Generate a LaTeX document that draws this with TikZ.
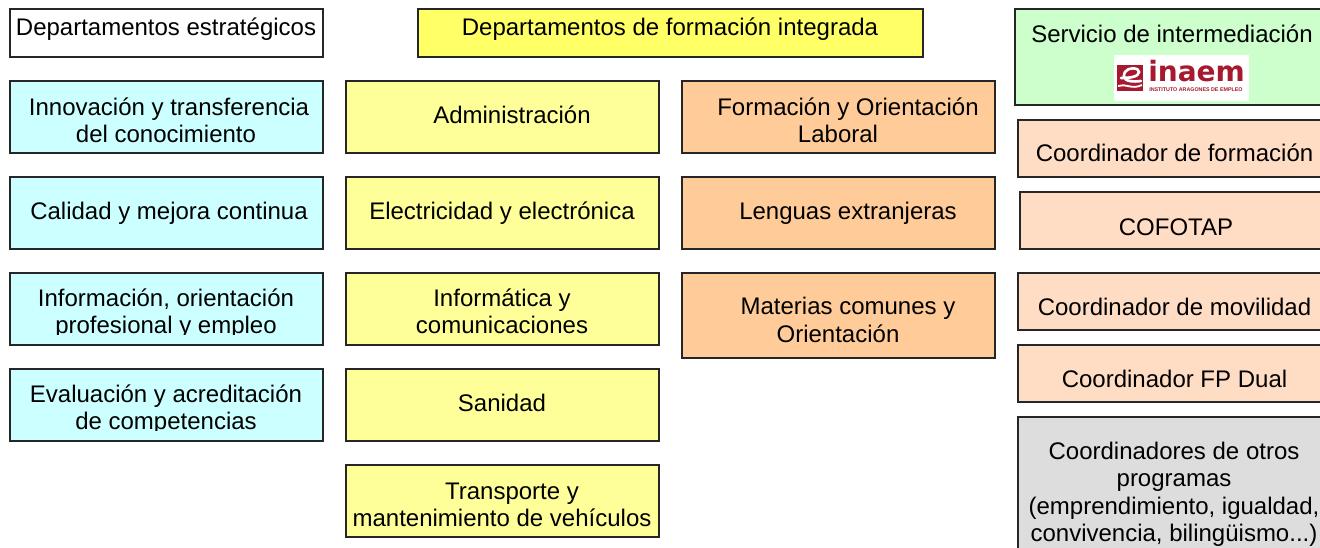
\documentclass[tikz,border=0pt]{standalone}
\usepackage{fontspec}
\setmainfont{Liberation Sans}
\newfontfamily\logofont{DejaVu Sans}
\definecolor{cwhite}{HTML}{FFFFFF}
\definecolor{cblue}{HTML}{CCFFFF}
\definecolor{cyel}{HTML}{FFFF99}
\definecolor{cyel2}{HTML}{FFFF66}
\definecolor{corg}{HTML}{FFCC99}
\definecolor{cgreen}{HTML}{CCFFCC}
\definecolor{cpeach}{HTML}{FFDDC4}
\definecolor{cgray}{HTML}{DDDDDD}
\definecolor{inaemred}{HTML}{A6192E}
\newcommand{\bx}[6]{% name, fill, x0, y0, x1, y1
  \node[boxs, fill=#2, minimum width=#5*0.75pt-#3*0.75pt, minimum height=#6*0.75pt-#4*0.75pt, anchor=north west] (#1) at (#3,#4) {};
}
\newcommand{\tx}[4]{% name, x, y, text
  \node[txt] (#1) at (#2,#3) {\rule{0pt}{14pt}#4\rule[-4pt]{0pt}{4pt}};
}
\tikzset{
  x=0.75pt, y=-0.75pt,
  boxs/.style={draw=black!85, line width=1pt, inner sep=0pt, outer sep=0pt},
  txt/.style={align=center, inner sep=0pt, font=\fontsize{18}{20.6}\selectfont, text=black},
}
\begin{document}
\begin{tikzpicture}
\useasboundingbox (0,0) rectangle (1320,548);
\bx{a0}{cwhite}{10}{9}{323}{57}
\bx{b0}{cyel2}{418}{9}{923}{57}
\bx{d0}{cgreen}{1015}{9}{1330}{105}
\bx{d1}{cpeach}{1018}{120}{1330}{177}
\bx{d2}{cpeach}{1020}{192}{1330}{249}
\bx{d3}{cpeach}{1018}{273}{1330}{330}
\bx{d4}{cpeach}{1018}{345}{1330}{402}
\bx{d5}{cgray}{1018}{417}{1330}{560}
\bx{a1}{cblue}{10}{81}{323}{153}
\bx{a2}{cblue}{10}{177}{323}{249}
\bx{a3}{cblue}{10}{273}{323}{345}
\bx{a4}{cblue}{10}{369}{323}{441}
\bx{b1}{cyel}{346}{81}{659}{153}
\bx{b2}{cyel}{346}{177}{659}{249}
\bx{b3}{cyel}{346}{273}{659}{345}
\bx{b4}{cyel}{346}{369}{659}{441}
\bx{b5}{cyel}{346}{465}{659}{537}
\bx{c1}{corg}{682}{81}{995}{153}
\bx{c2}{corg}{682}{177}{995}{249}
\bx{c3}{corg}{682}{273}{995}{358}
\tx{ta0}{166}{28.8}{Departamentos estratégicos}
\tx{tb0}{670}{29}{Departamentos de formación integrada}
\tx{td0}{1172}{36}{Servicio de intermediación}
\tx{td1}{1174.5}{155.3}{Coordinador de formación}
\tx{td2}{1176}{228.7}{COFOTAP}
\tx{td3}{1174.5}{308.6}{Coordinador de movilidad}
\tx{td4}{1174.5}{381}{Coordinador FP Dual}
\tx{td5}{1174}{493.8}{Coordinadores de otros\\programas\\(emprendimiento, igualdad,\\convivencia, bilingüismo...)}
\tx{ta1}{166}{122.6}{\hspace*{4.5pt}Innovación y transferencia\\del conocimiento}
\tx{ta2}{169}{213.3}{Calidad y mejora continua}
\begin{scope}
\clip (10,273) rectangle (323,335);
\tx{ta3}{166}{313.2}{Información, orientación\\profesional y empleo}
\end{scope}
\begin{scope}
\clip (10,369) rectangle (323,431);
\tx{ta4}{166}{409.4}{Evaluación y acreditación\\de competencias}
\end{scope}
\tx{tb1}{512}{116.8}{Administración}
\tx{tb2}{502}{212.8}{Electricidad y electrónica}
\tx{tb3}{502}{313.4}{Informática y\\comunicaciones}
\tx{tb4}{502}{405}{Sanidad}
\tx{tb5}{502}{506.2}{\hspace*{15pt}Transporte y\\mantenimiento de vehículos}
\tx{tc1}{848}{122.5}{Formación y Orientación\\Laboral\hspace*{15pt}}
\tx{tc2}{848}{212.8}{Lenguas extranjeras}
\tx{tc3}{848}{321.7}{Materias comunes y\\Orientación\hspace*{15pt}}
% logo
\node[fill=white, minimum width=101.25pt, minimum height=34.5pt, inner sep=0pt, anchor=north west] (logo) at (1114,55) {};
\node[fill=inaemred, minimum width=19.5pt, minimum height=19.5pt, inner sep=0pt, anchor=north west] (logoe) at (1117,65) {};
\draw[white, line width=2pt, line cap=round] (1121,78) .. controls (1129,78) and (1139,77) .. (1139,72) .. controls (1139,67) and (1128,67) .. (1125,72) .. controls (1122,78) and (1125,83) .. (1141,81);
\draw[white, line width=1.4pt] (1118,86) .. controls (1125,83) and (1132,90) .. (1142,85);
\node[text=inaemred, font=\logofont\bfseries\fontsize{21}{21}\selectfont, inner sep=0pt, anchor=base west] (logi) at (1148,82) {inaem};
\node[text=inaemred, font=\bfseries\fontsize{4}{4}\selectfont, inner sep=0pt, anchor=base west] (logs) at (1149,91.5) {INSTITUTO ARAGONES DE EMPLEO};
\end{tikzpicture}
\end{document}
